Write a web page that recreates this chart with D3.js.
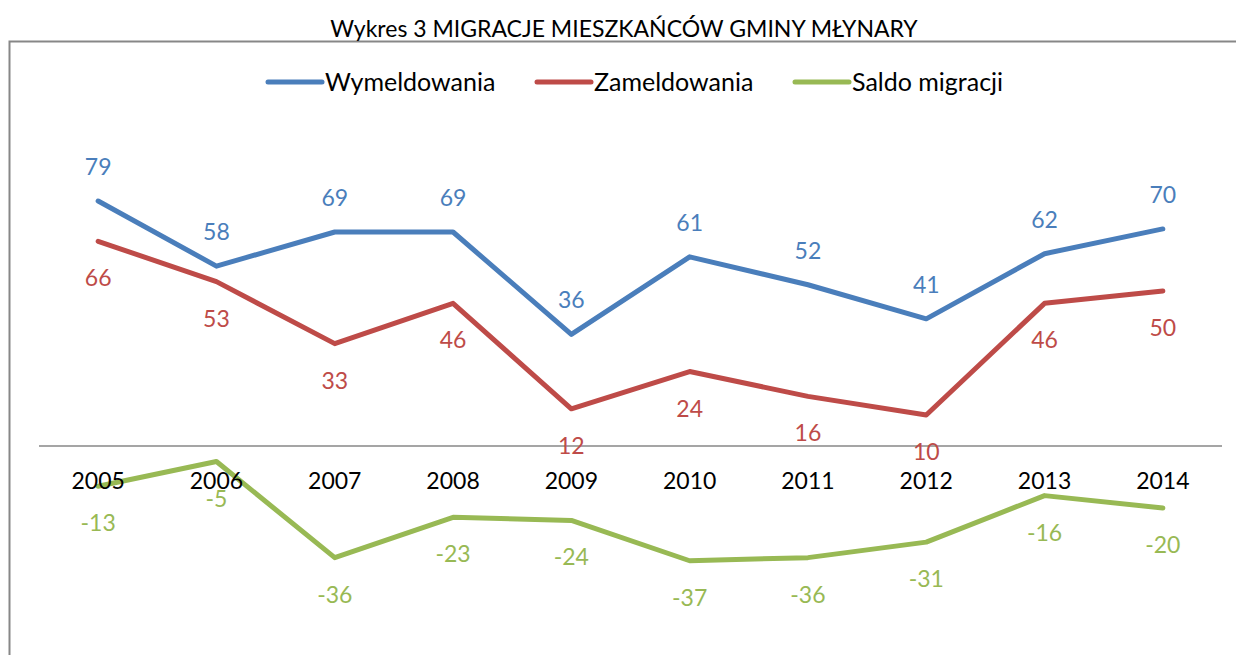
<!DOCTYPE html>
<html>
<head>
<meta charset="utf-8">
<script src="https://cdn.jsdelivr.net/npm/d3@7"></script>
<style>
  body { margin: 0; background: #fff; }
  text { font-family: Lato, "Open Sans", sans-serif; }
</style>
</head>
<body>
<svg width="1236" height="655"></svg>
<script>
var years = ["2005", "2006", "2007", "2008", "2009", "2010", "2011", "2012", "2013", "2014"];
var wymeldowania = [79, 58, 69, 69, 36, 61, 52, 41, 62, 70];
var zameldowania = [66, 53, 33, 46, 12, 24, 16, 10, 46, 50];
var saldo = [-13, -5, -36, -23, -24, -37, -36, -31, -16, -20];
var seriesNames = ["Wymeldowania", "Zameldowania", "Saldo migracji"];

var svg = d3.select("svg"),
    width = +svg.attr("width"),
    height = +svg.attr("height");

var colors = ["#4a7ebb", "#be4b48", "#98b954"];

// frame
svg.append("path")
    .attr("d", "M9.5," + height + "V41.5H" + width)
    .attr("fill", "none")
    .attr("stroke", "#878787")
    .attr("stroke-width", 2);

svg.append("text")
    .attr("x", 624)
    .attr("y", 37)
    .attr("text-anchor", "middle")
    .attr("font-size", 23)
    .attr("fill", "#000")
    .text("Wykres 3 MIGRACJE MIESZKAŃCÓW GMINY MŁYNARY");

var x = d3.scaleBand().domain(years).range([39, 1222]);
var y = d3.scaleLinear().domain([0, 79]).range([446, 201]);

// category axis line
svg.append("line")
    .attr("x1", x.range()[0]).attr("x2", x.range()[1])
    .attr("y1", y(0)).attr("y2", y(0))
    .attr("stroke", "#878787")
    .attr("stroke-width", 1.5);

var series = [
    { name: seriesNames[0], values: wymeldowania, color: colors[0], dy: -26 },
    { name: seriesNames[1], values: zameldowania, color: colors[1], dy: 45 },
    { name: seriesNames[2], values: saldo, color: colors[2], dy: 45 }
];

var line = d3.line()
    .x(function(d, i) { return x(years[i]) + x.bandwidth() / 2; })
    .y(function(d) { return y(d); });

series.forEach(function(s) {
    svg.append("path")
        .datum(s.values)
        .attr("d", line)
        .attr("fill", "none")
        .attr("stroke", s.color)
        .attr("stroke-width", 5)
        .attr("stroke-linecap", "round")
        .attr("stroke-linejoin", "round");
});

// year labels (drawn after lines, on top)
svg.selectAll(".year")
    .data(years)
    .enter().append("text")
    .attr("class", "year")
    .attr("x", function(d) { return x(d) + x.bandwidth() / 2; })
    .attr("y", y(0) + 43)
    .attr("text-anchor", "middle")
    .attr("font-size", 23)
    .attr("fill", "#000")
    .text(function(d) { return d; });

series.forEach(function(s) {
    svg.selectAll(null)
        .data(s.values)
        .enter().append("text")
        .attr("x", function(d, i) { return x(years[i]) + x.bandwidth() / 2; })
        .attr("y", function(d) { return y(d) + s.dy; })
        .attr("text-anchor", "middle")
        .attr("font-size", 23)
        .attr("fill", s.color)
        .text(function(d) { return d; });
});

// legend
var legendX = [268, 537, 795];
var legend = svg.selectAll(".legend")
    .data(series)
    .enter().append("g")
    .attr("class", "legend")
    .attr("transform", function(d, i) { return "translate(" + legendX[i] + ",82)"; });

legend.append("line")
    .attr("x1", 0).attr("x2", 54)
    .attr("stroke", function(d) { return d.color; })
    .attr("stroke-width", 5)
    .attr("stroke-linecap", "round");

legend.append("text")
    .attr("x", 57)
    .attr("y", 9)
    .attr("font-size", 25)
    .attr("fill", "#000")
    .text(function(d) { return d.name; });
</script>
</body>
</html>
